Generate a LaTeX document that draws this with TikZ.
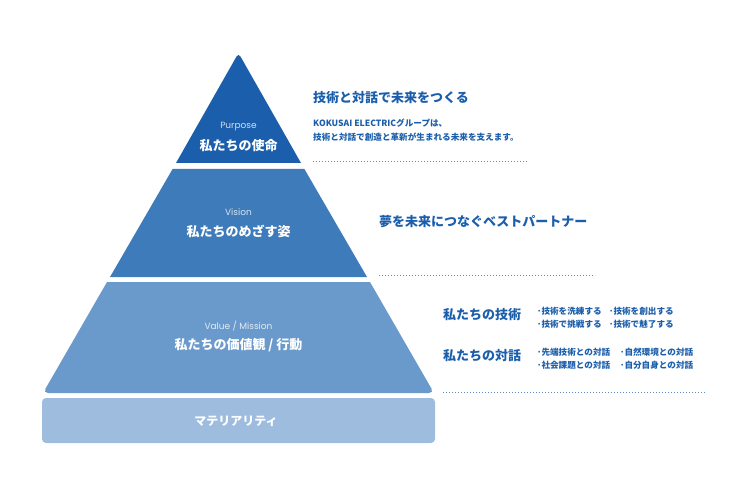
\documentclass[tikz,border=0pt]{standalone}
\usepackage{fontspec}
\setmainfont{Noto Sans CJK JP}
\newfontfamily\latinfont{Poppins}
\usepackage{tikz}
\definecolor{stufeA}{HTML}{1B5EAB}
\definecolor{stufeB}{HTML}{3E7BBA}
\definecolor{stufeC}{HTML}{6A9ACB}
\definecolor{stufeD}{HTML}{9DBCDE}
\definecolor{punkte}{HTML}{5F88C0}
\tikzset{every picture/.style={x=1pt, y=-1pt}}
\tikzstyle{titel}		= [anchor=west, inner sep=0pt, text=stufeA, font=\bfseries\fontsize{13}{15}\selectfont]
\tikzstyle{klein}		= [anchor=west, inner sep=0pt, text=stufeA, font=\bfseries\fontsize{8.6}{13}\selectfont]
\tikzstyle{stufe label}	= [inner sep=0pt, text=white, font=\bfseries\fontsize{13}{15}\selectfont]
\tikzstyle{stufe sub}	= [inner sep=0pt, text=white, text opacity=0.8, font=\latinfont\fontsize{9}{11}\selectfont]
\tikzstyle{trenner}		= [draw=punkte, line width=1pt, dash pattern=on 1pt off 2pt]

\begin{document}
\begin{tikzpicture}
	\useasboundingbox (0,0) rectangle (750,500);

	% Pyramide
	\fill[stufeA] (176,163) [rounded corners=4pt] -- (238.5,53) [sharp corners] -- (301,163) -- cycle;
	\fill[stufeB] (172.6,169) -- (304.4,169) -- (367,277) -- (110,277) -- cycle;
	\fill[stufeC] (107,282) -- (370,282) [rounded corners=5pt] -- (434,393) -- (43,393) [sharp corners] -- cycle;
	\fill[stufeD, rounded corners=4pt] (42,398) rectangle (435,443);

	% Stufen
	\node[stufe sub]   (purpose) at (238.5,127) {Purpose};
	\node[stufe label] (shimei)  at (238.5,146) {私たちの使命};
	\node[stufe sub]   (vision)  at (238.5,212) {Vision};
	\node[stufe label] (sugata)  at (238.5,231) {私たちのめざす姿};
	\node[stufe sub]   (value)   at (238.5,326) {Value / Mission};
	\node[stufe label] (kodo)    at (238.5,345) {私たちの価値観 / 行動};
	\node[stufe label, font=\bfseries\fontsize{12}{14}\selectfont] (materiality) at (236,421) {マテリアリティ};

	% Purpose
	\node[titel] (mirai)  at (313,98)  {技術と対話で未来をつくる};
	\node[klein] (kokusai) at (313,123.3) {KOKUSAI ELECTRICグループは、};
	\node[klein] (sasaeru) at (313,137.3) {技術と対話で創造と革新が生まれる未来を支えます。};
	\coordinate (t1a) at (313,161.5);
	\coordinate (t1b) at (528,161.5);
	\draw[trenner] (t1a) -- (t1b);

	% Vision
	\node[titel] (partner) at (379,222) {夢を未来につなぐベストパートナー};
	\coordinate (t2a) at (379,275.5);
	\coordinate (t2b) at (595,275.5);
	\draw[trenner] (t2a) -- (t2b);

	% Value / Mission
	\node[titel] (gijutsu) at (443,315) {私たちの技術};
	\node[klein] (g1) at (537,311)   {･技術を洗練する};
	\node[klein] (g2) at (609,311)   {･技術を創出する};
	\node[klein] (g3) at (537,324.5) {･技術で挑戦する};
	\node[klein] (g4) at (609,324.5) {･技術で魅了する};
	\node[titel] (taiwa) at (443,356) {私たちの対話};
	\node[klein] (d1) at (537,352)   {･先端技術との対話};
	\node[klein] (d2) at (620,352)   {･自然環境との対話};
	\node[klein] (d3) at (537,365.5) {･社会課題との対話};
	\node[klein] (d4) at (620,365.5) {･自分自身との対話};
	\coordinate (t3a) at (443,392);
	\coordinate (t3b) at (705,392);
	\draw[trenner] (t3a) -- (t3b);
\end{tikzpicture}
\end{document}
